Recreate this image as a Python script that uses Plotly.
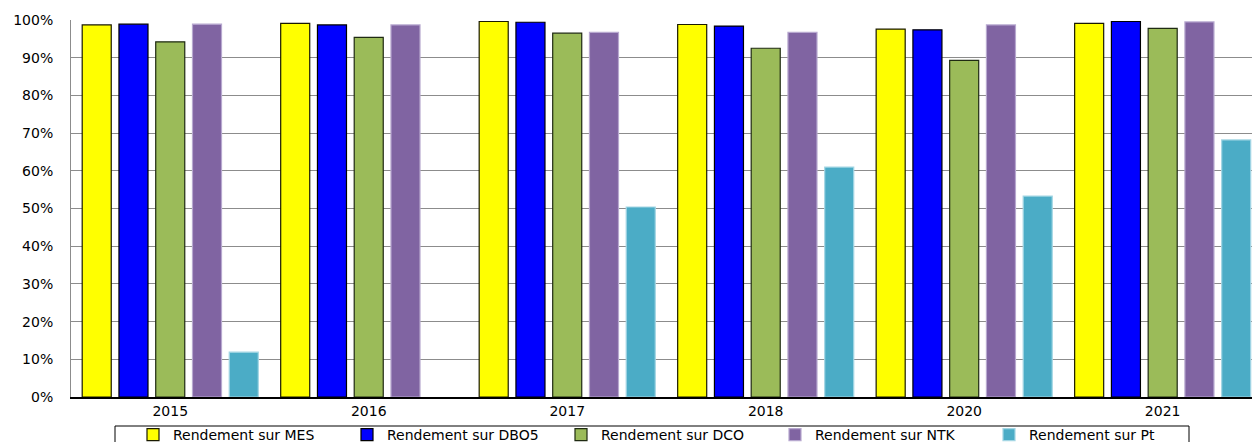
import plotly.graph_objects as go

years = ["2015", "2016", "2017", "2018", "2020", "2021"]
mes = [0.987, 0.991, 0.996, 0.988, 0.976, 0.991]
dbo5 = [0.989, 0.987, 0.994, 0.984, 0.974, 0.996]
dco = [0.942, 0.954, 0.965, 0.925, 0.893, 0.978]
ntk = [0.989, 0.987, 0.967, 0.967, 0.987, 0.995]
pt = [0.119, None, 0.504, 0.610, 0.533, 0.682]

series_names = ["Rendement sur MES", "Rendement sur DBO5", "Rendement sur DCO",
                "Rendement sur NTK", "Rendement sur Pt"]
series_values = [mes, dbo5, dco, ntk, pt]
fill_colors = ["#FFFF00", "#0000FF", "#9BBB59", "#8064A2", "#4BACC6"]
line_colors = ["#1a1a00", "#000000", "#1f2a12", "#B7A8CF", "#A3D6E4"]

FONT = "DejaVu Sans"

fig = go.Figure()
for name, vals, fc, lc in zip(series_names, series_values, fill_colors, line_colors):
    fig.add_trace(go.Bar(
        x=years, y=vals, name=name,
        marker=dict(color=fc, line=dict(color=lc, width=1.2)),
    ))

W, H = 1252, 442
L, R, T, B = 71, 0, 20, 45
pw = W - L - R
ph = H - T - B

def px_x(x):
    return (x - L) / pw

def px_y(y):
    return (H - B - y) / ph

fig.update_layout(
    width=W, height=H,
    margin=dict(l=L, r=R, t=T, b=B, autoexpand=False),
    plot_bgcolor="white", paper_bgcolor="white",
    barmode="group", bargap=0.074, bargroupgap=0.21,
    font=dict(family=FONT, size=14, color="#000000"),
    showlegend=True,
    legend=dict(
        orientation="h", x=px_x(133), y=px_y(419), xanchor="left", yanchor="top",
        bgcolor="rgba(0,0,0,0)", borderwidth=0,
        font=dict(family=FONT, size=14, color="#000000"),
        entrywidth=169, entrywidthmode="pixels", itemwidth=30,
        traceorder="normal",
    ),
    xaxis=dict(
        type="category", range=[-0.5, 5.45],
        showgrid=False, showline=True, linecolor="#000000", linewidth=1.5,
        ticks="", tickfont=dict(family=FONT, size=14, color="#000000"),
        fixedrange=True,
    ),
    yaxis=dict(
        range=[0, 1.0], dtick=0.1, tick0=0, tickformat=".0%",
        showgrid=True, gridcolor="#8c8c8c", gridwidth=1,
        showline=True, linecolor="#8c8c8c", linewidth=1,
        zeroline=False, ticks="", ticklabelstandoff=14,
        tickfont=dict(family=FONT, size=14, color="#000000"),
        fixedrange=True,
    ),
    shapes=[dict(
        type="rect", xref="paper", yref="paper",
        x0=px_x(115), x1=px_x(1189), y0=px_y(426), y1=px_y(470),
        line=dict(color="#000000", width=1), fillcolor="rgba(0,0,0,0)",
        layer="above",
    )],
)

fig.write_html("out.html", config={"displayModeBar": False},
               post_script="document.body.style.margin='0px';")
